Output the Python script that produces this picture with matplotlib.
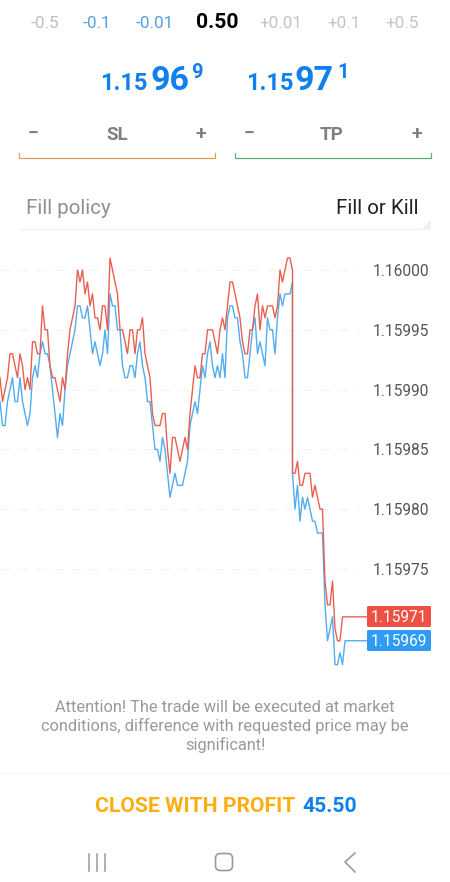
import matplotlib
matplotlib.use("Agg")
import matplotlib.pyplot as plt
import numpy as np
from matplotlib.patches import FancyBboxPatch, Polygon

# Prices in points above 1.15900, one value per tick
ask_points = [
    91, 89, 90, 91, 93, 93, 92, 91, 93, 92, 90, 91, 90, 94, 94, 93, 93, 97, 95, 95,
    92, 91, 91, 90, 89, 91, 90, 93, 95, 96, 97, 100, 99, 100, 98, 99, 97, 98, 96, 96,
    95, 97, 97, 95, 101, 100, 99, 98, 95, 95, 94, 93, 95, 95, 93, 95, 95, 96, 93, 92,
    91, 88, 87, 87, 87, 88, 88, 85, 83, 86, 86, 85, 84, 85, 86, 85, 88, 90, 92, 91,
    91, 93, 93, 95, 95, 95, 94, 93, 95, 96, 95, 97, 99, 99, 98, 97, 96, 94, 93, 93,
    95, 95, 97, 98, 95, 97, 96, 97, 97, 97, 96, 97, 100, 99, 100, 101, 101, 100,
    83, 83, 84, 82, 82, 83, 83, 83, 81, 82, 81, 80, 80, 74, 72, 72, 74, 70, 69, 69,
    71, 71, 71, 71, 71, 71, 71, 71, 71, 71, 71,
]
bid_points = [
    89, 87, 87, 89, 90, 91, 89, 89, 91, 89, 88, 87, 88, 91, 92, 91, 93, 94, 93, 93,
    92, 90, 88, 86, 88, 87, 90, 92, 93, 94, 95, 97, 97, 96, 96, 97, 95, 93, 94, 93,
    92, 93, 95, 93, 98, 97, 97, 95, 95, 92, 91, 91, 92, 92, 91, 93, 94, 92, 91, 89,
    89, 87, 85, 85, 84, 86, 85, 83, 81, 82, 83, 82, 82, 82, 83, 84, 87, 88, 89, 88,
    90, 92, 91, 93, 94, 92, 91, 92, 91, 93, 91, 96, 97, 97, 96, 96, 94, 93, 91, 91,
    93, 95, 96, 93, 94, 93, 92, 96, 95, 95, 93, 96, 98, 97, 98, 98, 98, 99,
    83, 80, 82, 79, 81, 80, 81, 80, 79, 79, 78, 78, 78, 72, 69, 70, 71, 67, 67, 68,
    67, 69, 69, 69, 69, 69, 69, 69, 69, 69, 69,
]
grid_points = [100, 95, 90, 85, 80, 75]
grid_labels = ["1.16000", "1.15995", "1.15990", "1.15985", "1.15980", "1.15975"]

step_labels = ["-0.5", "-0.1", "-0.01", "0.50", "+0.01", "+0.1", "+0.5"]
step_centers = [45, 97, 155, 217, 281, 344, 402]
step_colors = ["#BDBDBD", "#5A9FDE", "#5A9FDE", "#000000", "#C4C4C4", "#C4C4C4", "#C4C4C4"]

BLUE = "#1080F0"
ORANGE = "#FFAE12"
GREY = "#808080"
RED_LINE = "#E8604F"
BLUE_LINE = "#52ACEF"
FONT = "Roboto"

W, H = 450, 882
PX_PER_TICK = 2.5
PX_PER_POINT = 11.96
Y_100 = 270  # pixel row of the 1.16000 level
CHART_TOP, CHART_BOTTOM, CHART_RIGHT = 245, 680, 367

fig = plt.figure(figsize=(W / 100, H / 100), dpi=100, facecolor="white")

# Price chart
ax = fig.add_axes([0, 1 - CHART_BOTTOM / H, CHART_RIGHT / W, (CHART_BOTTOM - CHART_TOP) / H])
ticks = np.arange(len(ask_points), dtype=float)
ticks[118:] -= 1  # the big drop happens inside one tick
ax.set_xlim(0, CHART_RIGHT / PX_PER_TICK)
ax.set_ylim(100 - (CHART_BOTTOM - Y_100) / PX_PER_POINT, 100 + (Y_100 - CHART_TOP) / PX_PER_POINT)
ax.hlines(grid_points, 0, 358 / PX_PER_TICK, color="#F3F3F3", lw=0.8, linestyles=(0, (9, 7)), zorder=1)
ax.plot(ticks, bid_points, color=BLUE_LINE, lw=1.0, zorder=2)
ax.plot(ticks, ask_points, color=RED_LINE, lw=1.0, zorder=3)
ax.set_xticks([])
ax.yaxis.tick_right()
ax.set_yticks(grid_points, labels=grid_labels)
ax.tick_params(axis="y", length=0, pad=4, labelsize=11.2, labelcolor="#555555")
for lab in ax.get_yticklabels():
    lab.set_fontfamily(FONT)
for s in ax.spines.values():
    s.set_visible(False)
ax.patch.set_alpha(0)

# Everything else is drawn in screen pixels
ui = fig.add_axes([0, 0, 1, 1], zorder=5)
ui.set_xlim(0, W)
ui.set_ylim(H, 0)
ui.axis("off")
ui.patch.set_alpha(0)


def label(x, y, s, size, color, weight="normal", ha="center", va="center"):
    ui.text(x, y, s, fontsize=size, color=color, fontweight=weight, ha=ha, va=va, family=FONT)


# Volume steps
for s, x, c in zip(step_labels, step_centers, step_colors):
    if s == "0.50":
        label(x, 22.5, s, 15.2, c, weight="bold")
    else:
        label(x, 23.5, s, 12.3, c)

# Bid / ask quotes
for x0, x1, x2, big, small in [(100.5, 150, 191, "96", "9"), (246.5, 294.5, 337, "97", "1")]:
    label(x0, 90.5, "1.15", 17, BLUE, weight="bold", ha="left", va="baseline")
    label(x1, 90.5, big, 24.5, BLUE, weight="bold", ha="left", va="baseline")
    label(x2, 78, small, 14.5, BLUE, weight="bold", ha="left", va="baseline")

# SL / TP steppers
for x_minus, x_mid, x_plus, name, left, right, col in [
    (33, 117, 201, "SL", 19, 215, "#E0A050"),
    (249, 332, 417, "TP", 235, 431, "#5CB270"),
]:
    label(x_minus, 134, "\u2212", 14, GREY, weight="bold")
    label(x_mid, 135, name, 13.5, GREY, weight="bold")
    label(x_plus, 134, "+", 14, GREY, weight="bold")
    ui.plot([left, left, right, right], [153, 158, 158, 153], color=col, lw=0.9)

# Fill policy row
label(26, 209, "Fill policy", 14.8, "#909090", ha="left")
label(419, 209, "Fill or Kill", 14.8, "#222222", ha="right")
ui.plot([20, 431], [229, 229], color="#F2F2F2", lw=0.9)
ui.add_patch(Polygon([[422, 229], [431, 229], [431, 220]], color="#EEEEEE", lw=0))

# Current price tags
for top, bottom, col, text in [(606, 627, "#EF5044", "1.15971"), (630, 651, "#2F9BF6", "1.15969")]:
    ui.add_patch(FancyBboxPatch((368, top + 1), 62, bottom - top - 2,
                                boxstyle="round,pad=1,rounding_size=1.5", fc=col, ec="none"))
    label(399, (top + bottom) / 2 + 1, text, 11.2, "white")

# Warning text
warning = [
    "Attention! The trade will be executed at market",
    "conditions, difference with requested price may be",
    "significant!",
]
for y, line in zip([707, 726, 745], warning):
    label(225, y, line, 11.8, "#999999")
ui.plot([0, W], [773, 773], color="#F6F6F6", lw=0.9)

# Close button
label(95, 806.5, "CLOSE WITH PROFIT", 15.2, ORANGE, weight="bold", ha="left")
label(302, 806.5, "45.50", 15.2, BLUE, weight="bold", ha="left")

# Android navigation bar
for x in [89, 97, 105]:
    ui.plot([x, x], [854, 871], color="#9A9A9A", lw=1.1)
ui.add_patch(FancyBboxPatch((218, 856), 12, 12, boxstyle="round,pad=2.5,rounding_size=5",
                            fc="none", ec="#9A9A9A", lw=1.2))
ui.plot([355, 345, 355], [853, 862, 872], color="#9A9A9A", lw=1.2)

fig.savefig("out.png", dpi=100)
